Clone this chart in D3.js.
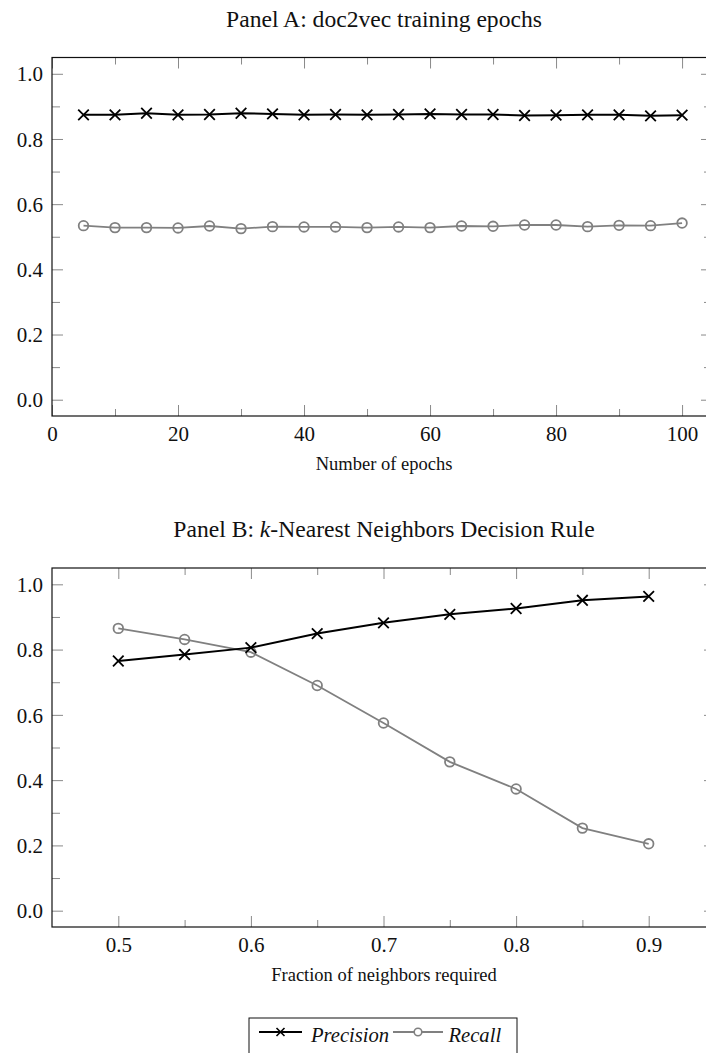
<!DOCTYPE html>
<html lang="en">
<head>
  <meta charset="UTF-8">
  <title>doc2vec epochs and kNN decision rule</title>
  <style>
    body { margin: 0; background: #fff; }
    svg { display: block; }
    text { font-family: "Liberation Serif", "Times New Roman", serif; fill: #111; }
  </style>
  <script src="https://d3js.org/d3.v7.min.js"></script>
</head>
<body>
<div id="chart"></div>
<script>
  // Panel A data: doc2vec training epochs
  var epochs = [5, 10, 15, 20, 25, 30, 35, 40, 45, 50, 55, 60, 65, 70, 75, 80, 85, 90, 95, 100];
  var precisionA = [0.874, 0.874, 0.879, 0.874, 0.875, 0.879, 0.877, 0.874, 0.875, 0.874,
                    0.875, 0.877, 0.875, 0.875, 0.872, 0.873, 0.874, 0.874, 0.871, 0.873];
  var recallA = [0.534, 0.528, 0.528, 0.527, 0.533, 0.525, 0.531, 0.530, 0.530, 0.528,
                 0.530, 0.528, 0.533, 0.532, 0.536, 0.536, 0.531, 0.535, 0.534, 0.542];

  // Panel B data: k-NN decision rule
  var fractions = [0.5, 0.55, 0.6, 0.65, 0.7, 0.75, 0.8, 0.85, 0.9];
  var precisionB = [0.765, 0.785, 0.806, 0.849, 0.882, 0.908, 0.926, 0.951, 0.963];
  var recallB = [0.865, 0.831, 0.792, 0.690, 0.575, 0.456, 0.373, 0.253, 0.205];

  // ticks
  var yMajor = [0, 0.2, 0.4, 0.6, 0.8, 1.0];
  var yMinor = [0.1, 0.3, 0.5, 0.7, 0.9];
  var xMajorA = [0, 20, 40, 60, 80, 100];
  var xMinorA = [10, 30, 50, 70, 90];
  var xMajorB = [0.5, 0.6, 0.7, 0.8, 0.9];
  var xMinorB = [0.55, 0.65, 0.75, 0.85];

  var width = 706;
  var height = 1053;
  var tickColor = "#8a8a8a";
  var gray = "#808080";

  var svg = d3.select("#chart")
          .append("svg")
          .attr("width", width)
          .attr("height", height);

  function drawPanel(cfg) {
    var x = d3.scaleLinear().domain(cfg.xDomain).range([52, cfg.right]);
    var y = d3.scaleLinear().domain([-0.05, 1.05]).range([cfg.bottom, cfg.top]);
    var g = svg.append("g");

    // title
    var t = g.append("text")
            .attr("x", 384)
            .attr("y", cfg.titleY)
            .attr("text-anchor", "middle")
            .style("font-size", "23.6px");
    cfg.title.forEach(function(part) {
      t.append("tspan").text(part.text).style("font-style", part.italic ? "italic" : "normal");
    });

    function axisGroup(axis, tx, ty) {
      var a = g.append("g").attr("transform", "translate(" + tx + "," + ty + ")").call(axis);
      a.select(".domain").remove();
      a.selectAll(".tick line").attr("stroke", tickColor).attr("stroke-width", 1);
      return a;
    }

    // y ticks, both sides, pointing inward
    var left = axisGroup(d3.axisLeft(y).tickValues(yMajor).tickSize(-11).tickPadding(0)
            .tickFormat(d3.format(".1f")), 52, 0);
    left.selectAll(".tick text")
            .attr("x", -9)
            .attr("dy", "0.34em")
            .style("font-size", "21px")
            .style("font-family", "'Liberation Serif', serif")
            .attr("fill", "#111");
    axisGroup(d3.axisLeft(y).tickValues(yMinor).tickSize(-8).tickFormat(""), 52, 0);
    axisGroup(d3.axisRight(y).tickValues(yMajor).tickSize(-11).tickFormat(""), cfg.right, 0);
    axisGroup(d3.axisRight(y).tickValues(yMinor).tickSize(-8).tickFormat(""), cfg.right, 0);

    // x ticks, top and bottom
    var bottom = axisGroup(d3.axisBottom(x).tickValues(cfg.xMajor).tickSize(-11)
            .tickFormat(cfg.xFormat), 0, cfg.bottom);
    bottom.selectAll(".tick text")
            .attr("y", 25)
            .attr("dy", 0)
            .style("font-size", "21px")
            .style("font-family", "'Liberation Serif', serif")
            .attr("fill", "#111");
    axisGroup(d3.axisBottom(x).tickValues(cfg.xMinor).tickSize(-7).tickFormat(""), 0, cfg.bottom);
    axisGroup(d3.axisTop(x).tickValues(cfg.xMajor).tickSize(-11).tickFormat(""), 0, cfg.top);
    axisGroup(d3.axisTop(x).tickValues(cfg.xMinor).tickSize(-7).tickFormat(""), 0, cfg.top);

    // frame
    g.append("rect")
            .attr("x", 52)
            .attr("y", cfg.top)
            .attr("width", cfg.right - 52)
            .attr("height", cfg.bottom - cfg.top)
            .attr("fill", "none")
            .attr("stroke", "#111")
            .attr("stroke-width", 1.2);

    // x label
    g.append("text")
            .attr("x", 384)
            .attr("y", cfg.bottom + 53.5)
            .attr("text-anchor", "middle")
            .style("font-size", "18.5px")
            .text(cfg.xLabel);

    var line = d3.line()
            .x(function(d) { return x(d[0]); })
            .y(function(d) { return y(d[1]); });

    var rec = cfg.xs.map(function(v, i) { return [v, cfg.recall[i]]; });
    var prec = cfg.xs.map(function(v, i) { return [v, cfg.precision[i]]; });

    // recall: gray with open circles
    g.append("path")
            .datum(rec)
            .attr("d", line)
            .attr("fill", "none")
            .attr("stroke", gray)
            .attr("stroke-width", 1.8);
    g.selectAll(".circ")
            .data(rec)
            .enter()
            .append("circle")
            .attr("cx", function(d) { return x(d[0]); })
            .attr("cy", function(d) { return y(d[1]); })
            .attr("r", 4.8)
            .attr("fill", "#fff")
            .attr("fill-opacity", 0)
            .attr("stroke", gray)
            .attr("stroke-width", 1.8);

    // precision: black with crosses
    g.append("path")
            .datum(prec)
            .attr("d", line)
            .attr("fill", "none")
            .attr("stroke", "#000")
            .attr("stroke-width", 2);
    g.selectAll(".cross")
            .data(prec)
            .enter()
            .append("path")
            .attr("transform", function(d) { return "translate(" + x(d[0]) + "," + y(d[1]) + ")"; })
            .attr("d", "M-5.3,-5.3L5.3,5.3M-5.3,5.3L5.3,-5.3")
            .attr("stroke", "#000")
            .attr("stroke-width", 1.8);
  }

  drawPanel({
    title: [{text: "Panel A: doc2vec training epochs"}],
    titleY: 27,
    top: 57.5,
    bottom: 416,
    right: 712,
    xDomain: [0, 104.75],
    xMajor: xMajorA,
    xMinor: xMinorA,
    xFormat: d3.format("d"),
    xLabel: "Number of epochs",
    xs: epochs,
    precision: precisionA,
    recall: recallA
  });

  drawPanel({
    title: [{text: "Panel B: "}, {text: "k", italic: true}, {text: "-Nearest Neighbors Decision Rule"}],
    titleY: 536.5,
    top: 568,
    bottom: 927,
    right: 715,
    xDomain: [0.45, 0.95],
    xMajor: xMajorB,
    xMinor: xMinorB,
    xFormat: d3.format(".1f"),
    xLabel: "Fraction of neighbors required",
    xs: fractions,
    precision: precisionB,
    recall: recallB
  });

  // legend
  var lg = svg.append("g");
  lg.append("rect")
          .attr("x", 249)
          .attr("y", 1018)
          .attr("width", 268)
          .attr("height", 60)
          .attr("fill", "#fff")
          .attr("stroke", "#111")
          .attr("stroke-width", 1);
  var legendY = 1032;
  lg.append("line").attr("x1", 259).attr("x2", 302).attr("y1", legendY).attr("y2", legendY)
          .attr("stroke", "#000").attr("stroke-width", 2);
  lg.append("path").attr("transform", "translate(280.5," + legendY + ")")
          .attr("d", "M-4,-4L4,4M-4,4L4,-4").attr("stroke", "#000").attr("stroke-width", 1.6);
  lg.append("text").attr("x", 311).attr("y", 1041.5)
          .style("font-size", "20.6px").style("font-style", "italic").text("Precision");
  lg.append("line").attr("x1", 393).attr("x2", 443).attr("y1", legendY).attr("y2", legendY)
          .attr("stroke", gray).attr("stroke-width", 1.8);
  lg.append("circle").attr("cx", 418).attr("cy", legendY).attr("r", 3.8)
          .attr("fill", "#fff").attr("stroke", gray).attr("stroke-width", 1.6);
  lg.append("text").attr("x", 448.5).attr("y", 1041.5)
          .style("font-size", "20.6px").style("font-style", "italic").text("Recall");
</script>
</body>
</html>
